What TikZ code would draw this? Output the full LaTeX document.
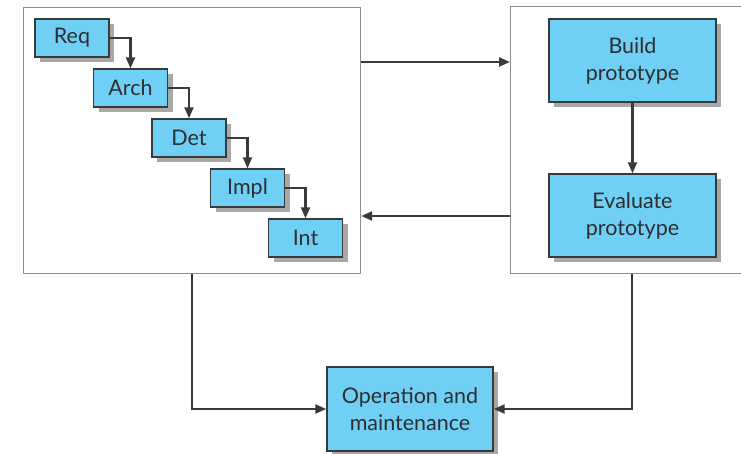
\documentclass[tikz,border=0pt]{standalone}
\usepackage{fontspec}
\setmainfont{Lato}
\usetikzlibrary{arrows.meta,calc,shadows}
\definecolor{boxblue}{HTML}{70CFF5}
\definecolor{boxline}{HTML}{3A3A3A}
\definecolor{txt}{HTML}{2E2E2E}
\definecolor{shade}{HTML}{A8A8A8}
\definecolor{frame}{HTML}{8C8C8C}
\tikzset{
  pbox/.style={draw=boxline,line width=1.4pt,fill=boxblue,inner sep=0pt,
    text=txt,align=center,font=\fontsize{21.5}{27}\selectfont,
    drop shadow={shadow xshift=5pt,shadow yshift=-5pt,fill=shade,opacity=1}},
  small/.style={pbox,minimum width=74pt,minimum height=38pt},
  big/.style={pbox,minimum width=167pt,minimum height=83pt},
  container/.style={draw=frame,line width=1.2pt,fill=white,inner sep=0pt},
  conn/.style={draw=boxline,line width=2.2pt,-{Triangle[length=11pt,width=9pt]}}
}
\begin{document}
\begin{tikzpicture}[x=1pt,y=-1pt]
\useasboundingbox (0,0) rectangle (741,454);
\clip (0,0) rectangle (741,454);
% containers
\node[container,minimum width=337pt,minimum height=266pt,anchor=north west] (lc) at (23,7) {};
\node[container,minimum width=240pt,minimum height=267pt,anchor=north west] (rc) at (510,6) {};
% waterfall steps
\node[small] (req) at (72,38) {Req};
\node[small] (arch) at (130.5,88) {Arch};
\node[small] (det) at (189,138) {Det};
\node[small] (impl) at (247.5,188) {Impl};
\node[small] (int) at (305.5,238) {Int};
\draw[conn] (req.east) -| (arch.north);
\draw[conn] (arch.east) -| (det.north);
\draw[conn] (det.east) -| (impl.north);
\draw[conn] (impl.east) -| (int.north);
% prototyping
\node[big] (build) at (632.5,60.5) {Build\\prototype};
\node[big] (eval) at (632.5,215.5) {Evaluate\\prototype};
\draw[conn] (build.south) -- (eval.north);
% operation
\node[big,minimum width=166pt,minimum height=84pt] (op) at (410,409) {Operation and\\maintenance};
% connectors between containers
\coordinate (a1) at (lc.east |- 0,62);
\coordinate (a2) at (rc.west |- 0,62);
\draw[conn] (a1) -- (a2);
\coordinate (b1) at (rc.west |- 0,216);
\coordinate (b2) at (lc.east |- 0,216);
\draw[conn] (b1) -- (b2);
\coordinate (c1) at (lc.south -| 192,0);
\draw[conn] (c1) |- (op.west);
\coordinate (d1) at (rc.south -| 632,0);
\draw[conn] (d1) |- (op.east);
\end{tikzpicture}
\end{document}
